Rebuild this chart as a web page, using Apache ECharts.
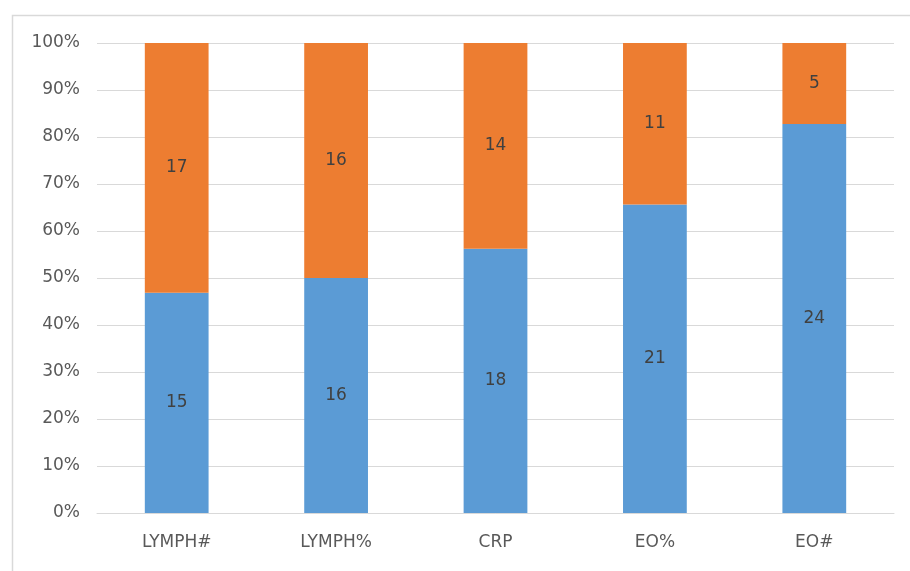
<!DOCTYPE html>
<html>
<head>
<meta charset="utf-8">
<script src="https://cdn.jsdelivr.net/npm/echarts@6/dist/echarts.min.js"></script>
<style>html,body{margin:0;padding:0;background:#fff}#c{width:910px;height:571px}</style>
</head>
<body>
<div id="c"></div>
<script>
const categories = ['LYMPH#', 'LYMPH%', 'CRP', 'EO%', 'EO#'];
const blueCounts = [15, 16, 18, 21, 24];
const orangeCounts = [17, 16, 14, 11, 5];
const yTicks = [0, 10, 20, 30, 40, 50, 60, 70, 80, 90, 100];

const totals = blueCounts.map((v, i) => v + orangeCounts[i]);
const bluePct = blueCounts.map((v, i) => ({ value: v / totals[i] * 100, count: v }));
const orangePct = orangeCounts.map((v, i) => ({ value: v / totals[i] * 100, count: v }));

const FONT = 'DejaVu Sans, sans-serif';
const chart = echarts.init(document.getElementById('c'), null, { renderer: 'canvas' });
const labelCfg = {
  show: true, position: 'inside', color: '#404040', fontSize: 17,
  fontFamily: FONT,
  formatter: p => p.data.count
};
chart.setOption({
  animation: false,
  backgroundColor: '#fff',
  graphic: [{
    type: 'rect', left: 10, top: 13, silent: true, z: -10,
    shape: { width: 920, height: 580 },
    style: { fill: 'none', stroke: '#D9D9D9', lineWidth: 1.5 }
  }],
  grid: { left: 97, right: 16, top: 43, bottom: 58 },
  xAxis: {
    type: 'category', data: categories,
    axisLine: { show: true, lineStyle: { color: '#D9D9D9' } },
    axisTick: { show: false },
    axisLabel: { color: '#595959', fontSize: 17, margin: 21, fontFamily: FONT }
  },
  yAxis: {
    type: 'value', min: yTicks[0], max: yTicks[yTicks.length - 1], interval: 10,
    axisLine: { show: false }, axisTick: { show: false },
    splitLine: { lineStyle: { color: '#D9D9D9', width: 1 } },
    axisLabel: { color: '#595959', fontSize: 17, margin: 17, formatter: '{value}%', fontFamily: FONT }
  },
  series: [
    { type: 'bar', stack: 's', data: bluePct, barWidth: '40%', itemStyle: { color: '#5B9BD5' }, label: labelCfg },
    { type: 'bar', stack: 's', data: orangePct, barWidth: '40%', itemStyle: { color: '#ED7D31' }, label: labelCfg }
  ]
});
</script>
</body>
</html>
